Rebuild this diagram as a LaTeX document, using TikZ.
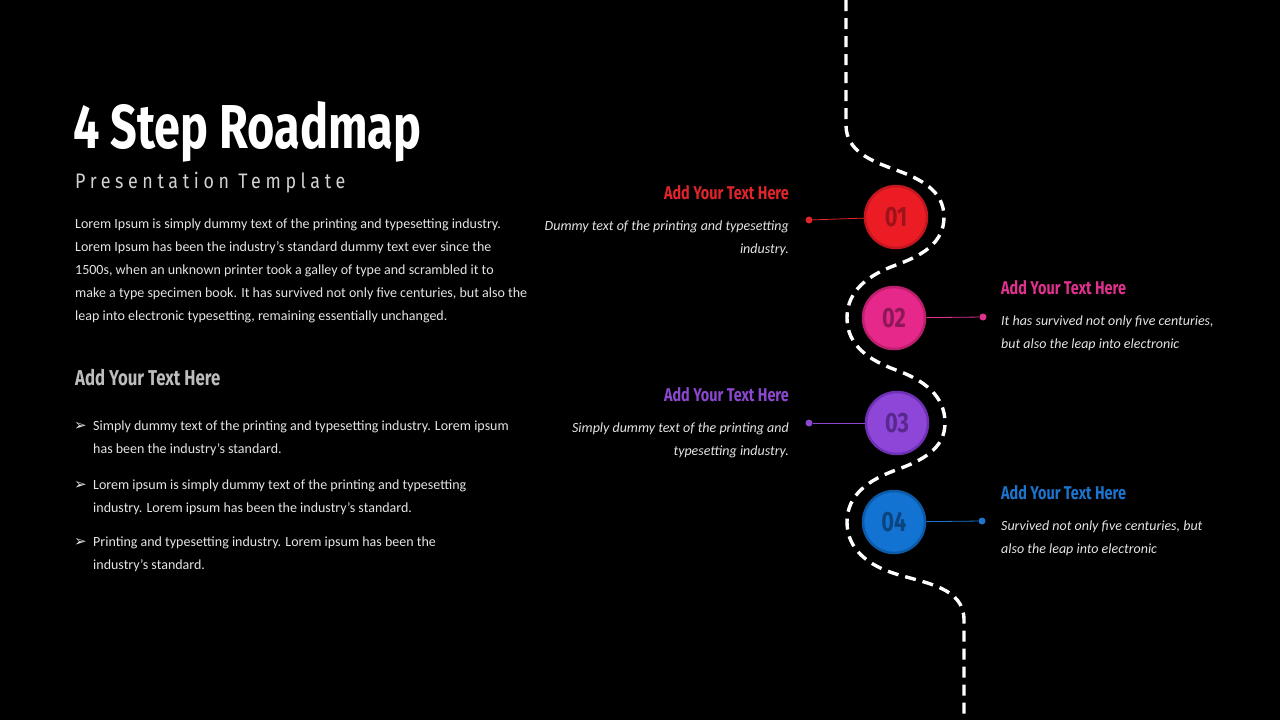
\documentclass[tikz,border=0pt]{standalone}
\usepackage{fontspec}
\setmainfont{Carlito}
\newfontfamily\headfont[FakeStretch=0.78]{Fira Sans}
\newfontfamily\titlefont[FakeStretch=0.755]{Fira Sans}
\newfontfamily\spacedfont[FakeStretch=0.85,LetterSpace=22]{Fira Sans}
\newfontfamily\symfont{DejaVu Sans}
\usepackage{xcolor}
\usepackage{tikz}
\usetikzlibrary{positioning}

\definecolor{softgray}{HTML}{D2D2D2}
\definecolor{bodytext}{HTML}{E4E4E4}
\definecolor{subhead}{HTML}{BDBDBD}
\definecolor{redfill}{HTML}{EC1C24}
\definecolor{redline}{HTML}{C4161E}
\definecolor{redtext}{HTML}{9E121A}
\definecolor{redhead}{HTML}{E0242B}
\definecolor{pinkfill}{HTML}{E6288A}
\definecolor{pinkline}{HTML}{BC1F6E}
\definecolor{pinktext}{HTML}{8C1857}
\definecolor{pinkhead}{HTML}{E0318F}
\definecolor{purplefill}{HTML}{8E46D8}
\definecolor{purpleline}{HTML}{6E30B4}
\definecolor{purpletext}{HTML}{58288E}
\definecolor{purplehead}{HTML}{8B48CF}
\definecolor{bluefill}{HTML}{1273D2}
\definecolor{blueline}{HTML}{0D5AA8}
\definecolor{bluetext}{HTML}{0B4580}
\definecolor{bluehead}{HTML}{1C74CD}

\begin{document}
\begin{tikzpicture}[
  x=1pt, y=-1pt,
  stepnum/.style={draw, circle, line width=2.5pt, minimum size=62pt,
    inner sep=0pt, font=\headfont\bfseries\fontsize{28}{28}\selectfont},
  pindot/.style={circle, fill, inner sep=0pt, minimum size=7pt},
  heading/.style={inner sep=0pt,
    font=\headfont\bfseries\fontsize{18.5}{20}\selectfont},
  blurb/.style={inner sep=0pt, text=bodytext,
    font=\itshape\fontsize{14}{23}\selectfont},
  plain/.style={inner sep=0pt, text=bodytext, align=left,
    font=\fontsize{14}{23}\selectfont},
  road/.style={white, line width=3.4pt, dash pattern=on 11pt off 7pt}
]

% Background
\fill[black] (0,0) rectangle (1280,720);
\useasboundingbox (0,0) rectangle (1280,720);

% Title block (multi-line nodes sit on their last baseline)
\node[anchor=base west, inner sep=0pt, text=white,
  font=\titlefont\bfseries\fontsize{62}{62}\selectfont] (title) at (73,148) {4 Step Roadmap};
\node[anchor=base west, inner sep=0pt, text=softgray,
  font=\spacedfont\fontsize{21}{21}\selectfont] (subtitle) at (75,188) {Presentation Template};

\node[plain, anchor=base west] (intro) at (75,320) {Lorem Ipsum is simply dummy text of the printing and typesetting industry.\\
Lorem Ipsum has been the industry's standard dummy text ever since the\\
1500s, when an unknown printer took a galley of type and scrambled it to\\
make a type specimen book. It has survived not only five centuries, but also the\\
leap into electronic typesetting, remaining essentially unchanged.};

\node[anchor=base west, inner sep=0pt, text=subhead,
  font=\headfont\bfseries\fontsize{21.5}{20}\selectfont] (lefthead) at (75,385) {Add Your Text Here};

% Bullet list
\node[plain, anchor=base west] (item1) at (93,453) {Simply dummy text of the printing and typesetting industry. Lorem ipsum\\
has been the industry's standard.};
\node[plain, anchor=base west] (item2) at (93,512) {Lorem ipsum is simply dummy text of the printing and typesetting\\
industry. Lorem ipsum has been the industry's standard.};
\node[plain, anchor=base west] (item3) at (93,569) {Printing and typesetting industry. Lorem ipsum has been the\\
industry's standard.};
\foreach \y/\n in {430/1, 489/2, 546/3}
  \node[anchor=base west, inner sep=0pt, text=bodytext,
    font=\symfont\fontsize{15}{15}\selectfont] (mark\n) at (74,\y) {➢};

% Winding road
\draw[road] (846,0) -- (846,125)
  to[out=-90, in=160] (896,170) to[out=-20, in=90] (944,217)
  to[out=-90, in=20] (896,265) to[out=200, in=90] (847,318)
  to[out=-90, in=160] (896,370) to[out=-20, in=90] (945,423)
  to[out=-90, in=20] (896,470) to[out=200, in=90] (847,522)
  to[out=-90, in=163] (896,574) to[out=-17, in=90] (964,620)
  -- (964,720);

% Steps
\node[stepnum, fill=redfill, draw=redline, text=redtext] (n1) at (896,217) {01};
\node[stepnum, fill=pinkfill, draw=pinkline, text=pinktext] (n2) at (894,318) {02};
\node[stepnum, fill=purplefill, draw=purpleline, text=purpletext] (n3) at (897,423) {03};
\node[stepnum, fill=bluefill, draw=blueline, text=bluetext] (n4) at (894,522) {04};

\node[pindot, fill=redhead] (p1) at (809,220) {};
\node[pindot, fill=pinkhead] (p2) at (983,317) {};
\node[pindot, fill=purplehead] (p3) at (809,423) {};
\node[pindot, fill=bluehead] (p4) at (982,521) {};

\draw[redhead, line width=0.8pt] (p1) -- (n1);
\draw[pinkhead, line width=0.8pt] (p2) -- (n2);
\draw[purplehead, line width=0.8pt] (p3) -- (n3);
\draw[bluehead, line width=0.8pt] (p4) -- (n4);

% Step labels
\node[heading, anchor=base east, text=redhead] (h1) at (789,199) {Add Your Text Here};
\node[blurb, anchor=base east, align=right] (t1) at (789,253) {Dummy text of the printing and typesetting\\industry.};

\node[heading, anchor=base west, text=pinkhead] (h2) at (1001,294) {Add Your Text Here};
\node[blurb, anchor=base west, align=left] (t2) at (1001,348) {It has survived not only five centuries,\\but also the leap into electronic};

\node[heading, anchor=base east, text=purplehead] (h3) at (789,401) {Add Your Text Here};
\node[blurb, anchor=base east, align=right] (t3) at (789,455) {Simply dummy text of the printing and\\typesetting industry.};

\node[heading, anchor=base west, text=bluehead] (h4) at (1001,499) {Add Your Text Here};
\node[blurb, anchor=base west, align=left] (t4) at (1001,553) {Survived not only five centuries, but\\also the leap into electronic};

\end{tikzpicture}
\end{document}
